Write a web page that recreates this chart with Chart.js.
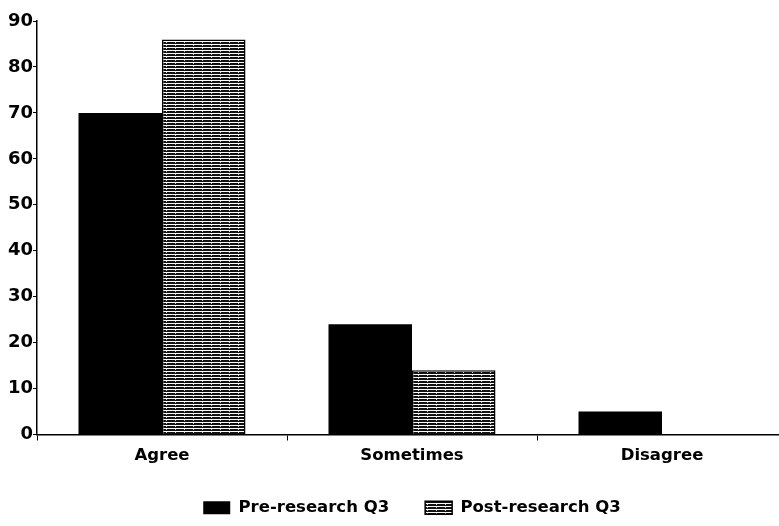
<!DOCTYPE html>
<html>
<head>
<meta charset="utf-8">
<script src="https://cdn.jsdelivr.net/npm/chart.js@4/dist/chart.umd.min.js"></script>
<style>
  html, body { margin: 0; padding: 0; background: #fff; overflow: hidden; }
  #wrap { width: 787px; height: 526px; }
</style>
</head>
<body>
<div id="wrap"><canvas id="myChart"></canvas></div>
<script>
const categories = ['Agree', 'Sometimes', 'Disagree'];
const preValues = [70, 24, 5];
const postValues = [86, 14, 0];
const yTicks = [0, 10, 20, 30, 40, 50, 60, 70, 80, 90];

const FONT = '"DejaVu Sans", "Liberation Sans", Arial, sans-serif';

// horizontal hatch used by the post-research bars
function makeHatch() {
    let c = document.createElement('canvas');
    c.width = 9;
    c.height = 3;
    let ctx = c.getContext('2d');
    ctx.fillStyle = '#fff';
    ctx.fillRect(0, 0, 9, 3);
    ctx.fillStyle = '#111';
    ctx.fillRect(0, 0, 9, 2);
    ctx.fillStyle = '#ccc';
    ctx.fillRect(4, 0, 1, 1);
    return ctx.createPattern(c, 'repeat');
}

var myChartObject = document.getElementById('myChart');
var hatch = makeHatch();

var chart = new Chart(myChartObject, {
    type: 'bar',
    data: {
        labels: categories,
        datasets: [{
            label: 'Pre-research Q3',
            data: preValues,
            backgroundColor: '#000',
            borderColor: '#000',
            borderWidth: 0
        }, {
            label: 'Post-research Q3',
            data: postValues,
            backgroundColor: hatch,
            borderColor: '#000',
            borderWidth: 1.5
        }]
    },
    options: {
        responsive: true,
        maintainAspectRatio: false,
        animation: false,
        layout: { padding: { top: 21, right: 0, left: 0, bottom: 0 } },
        datasets: {
            bar: { categoryPercentage: 0.668, barPercentage: 1.0 }
        },
        plugins: {
            tooltip: { enabled: false },
            legend: {
                position: 'bottom',
                fullSize: false,
                labels: {
                    color: '#000',
                    boxWidth: 27,
                    boxHeight: 13,
                    padding: 36,
                    font: { family: FONT, size: 16.5, weight: 'bold' }
                }
            }
        },
        scales: {
            x: {
                grid: {
                    offset: true,
                    drawOnChartArea: false,
                    drawTicks: true,
                    tickLength: 6,
                    color: '#000',
                    lineWidth: 1
                },
                border: { color: '#000', width: 1.5 },
                ticks: {
                    color: '#000',
                    padding: 5,
                    font: { family: FONT, size: 16.5, weight: 'bold' }
                },
                afterFit: function (scale) { scale.height = 29; }
            },
            y: {
                min: 0,
                max: 90,
                afterBuildTicks: function (scale) {
                    scale.ticks = yTicks.map(v => ({ value: v }));
                },
                grid: {
                    drawOnChartArea: false,
                    drawTicks: true,
                    tickLength: 4,
                    color: '#000'
                },
                border: { color: '#000', width: 1.5 },
                ticks: {
                    color: '#000',
                    padding: 0,
                    font: { family: FONT, size: 18, weight: 'bold' }
                },
                afterFit: function (scale) { scale.width = 37; }
            }
        }
    }
});
</script>
</body>
</html>
